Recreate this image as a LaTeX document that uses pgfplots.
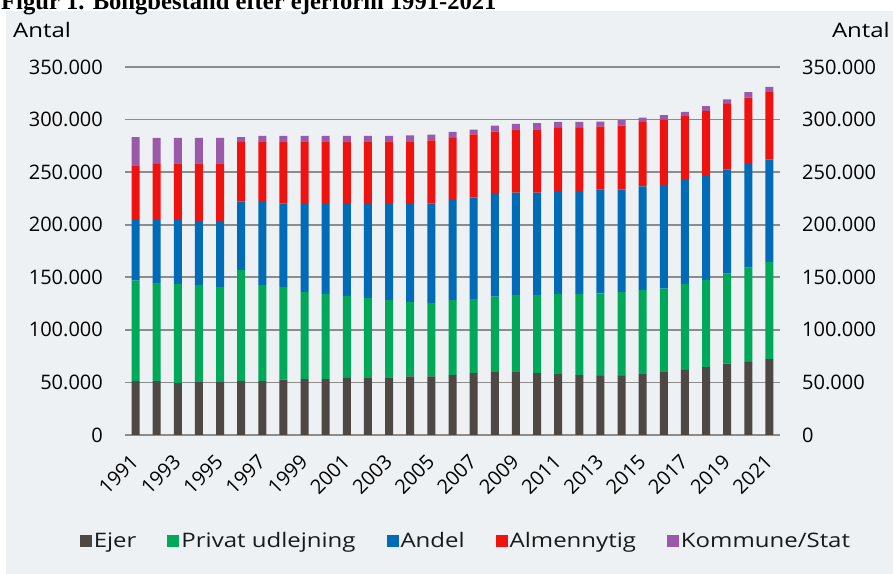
\documentclass[border=0pt]{standalone}
\usepackage{fontspec}
\setmainfont{Open Sans}
\newfontfamily\wide{Open Sans}[FakeStretch=1.2]
\newfontfamily\titlefont{Liberation Serif}
\usepackage{pgfplots}
\pgfplotsset{compat=1.18}
\usepackage{pgfplotstable}
\definecolor{bg}{RGB}{237,241,244}
\definecolor{cEjer}{RGB}{77,72,68}
\definecolor{cPriv}{RGB}{0,168,89}
\definecolor{cAnd}{RGB}{0,107,182}
\definecolor{cAlm}{RGB}{240,18,15}
\definecolor{cKom}{RGB}{155,89,169}
\definecolor{gridc}{RGB}{140,140,140}
\newcommand\lab{\fontsize{20bp}{24bp}\selectfont}

\pgfplotstableread{
year ejer priv andel almen kom
1991 51300 95600 58300 51300 26900
1992 51300 93100 60200 53200 24700
1993 49400 94400 60800 53800 24100
1994 50400 92400 60800 54800 24100
1995 50400 90500 62700 54800 24100
1996 51300 105500 65500 56400 4700
1997 51300 91500 78900 57600 5100
1998 52600 88300 79500 58900 5100
1999 53200 82700 83900 59500 5100
2000 53200 81100 85500 59500 5100
2001 54200 78200 87400 59500 5100
2002 54800 75400 89600 59500 5100
2003 54800 73500 91500 59500 5100
2004 55700 71000 93100 59500 5700
2005 55700 70000 94700 59900 5400
2006 57000 71300 95000 59200 5700
2007 58900 70300 96900 59900 4400
2008 59900 71800 97300 59500 5700
2009 59900 73400 97300 60100 5100
2010 58900 74400 97300 60100 6000
2011 58000 76300 97800 59900 5700
2012 57000 77300 97800 59900 5700
2013 56300 78500 98500 60100 4700
2014 56300 79800 97500 60700 5100
2015 57900 79800 98700 61100 4400
2016 59800 79500 98700 61700 4500
2017 62000 81400 99000 60800 4100
2018 64600 82900 98700 62100 4400
2019 68000 85500 98800 62600 4400
2020 69600 89600 98700 63000 5100
2021 72200 92100 97800 63900 5100
}\data

\begin{document}
\begin{tikzpicture}
\useasboundingbox (0,0) rectangle (893bp,574bp);
\fill[bg] (6bp,0) rectangle (893bp,563bp);
\node[anchor=base west, inner sep=0, font=\titlefont\bfseries\fontsize{24.6bp}{28bp}\selectfont] at (1bp,564bp) {Figur 1. Boligbestand efter ejerform 1991-2021};
\node[anchor=base west, inner sep=0, font=\wide\lab] at (13bp,536bp) {Antal};
\node[anchor=base east, inner sep=0, font=\wide\lab] at (890bp,536bp) {Antal};
\begin{axis}[
  at={(125bp,139bp)}, anchor=south west,
  scale only axis, width=655bp, height=368bp,
  ybar stacked, bar width=8bp,
  xmin=1990.5, xmax=2021.5, ymin=0, ymax=350000,
  ytick={0,50000,...,350000},
  xtick={1991,1993,...,2021},
  axis line style={draw=none},
  major tick length=0,
  ymajorgrids, grid style={gridc, line width=1.8bp},
  scaled y ticks=false,
  /pgf/number format/assume math mode=true,
  yticklabel style={/pgf/number format/.cd, 1000 sep={.}, fixed, /tikz/.cd, font=\lab, inner sep=0, anchor=east, xshift=-22bp},
  xticklabel style={/pgf/number format/.cd, 1000 sep={}, /tikz/.cd, font=\lab, inner sep=0, xshift=-6bp, yshift=-18bp, rotate=45, anchor=north east},
  legend columns=5,
  legend style={at={(0.5205,-0.288)}, anchor=center, draw=none, fill=none, font=\wide\lab, text=black!90,
    /tikz/every even column/.append style={column sep=29bp}},
  legend image code/.code={\fill[#1] (0bp,-6bp) rectangle (12bp,6bp);},
]
\addplot[fill=cEjer, draw=none] table[x=year, y=ejer] {\data};
\addplot[fill=cPriv, draw=none] table[x=year, y=priv] {\data};
\addplot[fill=cAnd, draw=none] table[x=year, y=andel] {\data};
\addplot[fill=cAlm, draw=none] table[x=year, y=almen] {\data};
\addplot[fill=cKom, draw=none] table[x=year, y=kom] {\data};
\legend{Ejer, Privat udlejning, Andel, Almennytig, Kommune/Stat}
\end{axis}
\begin{axis}[
  at={(125bp,139bp)}, anchor=south west,
  scale only axis, width=655bp, height=368bp,
  xmin=1990.5, xmax=2021.5, ymin=0, ymax=350000,
  ytick={0,50000,...,350000}, xtick=\empty,
  axis line style={draw=none}, major tick length=0,
  scaled y ticks=false,
  /pgf/number format/assume math mode=true,
  yticklabel pos=right,
  yticklabel style={/pgf/number format/.cd, 1000 sep={.}, fixed, /tikz/.cd, font=\lab, inner sep=0, anchor=west, xshift=22bp},
]
\addplot[draw=none] coordinates {(2000,0)};
\end{axis}
\end{tikzpicture}
\end{document}
